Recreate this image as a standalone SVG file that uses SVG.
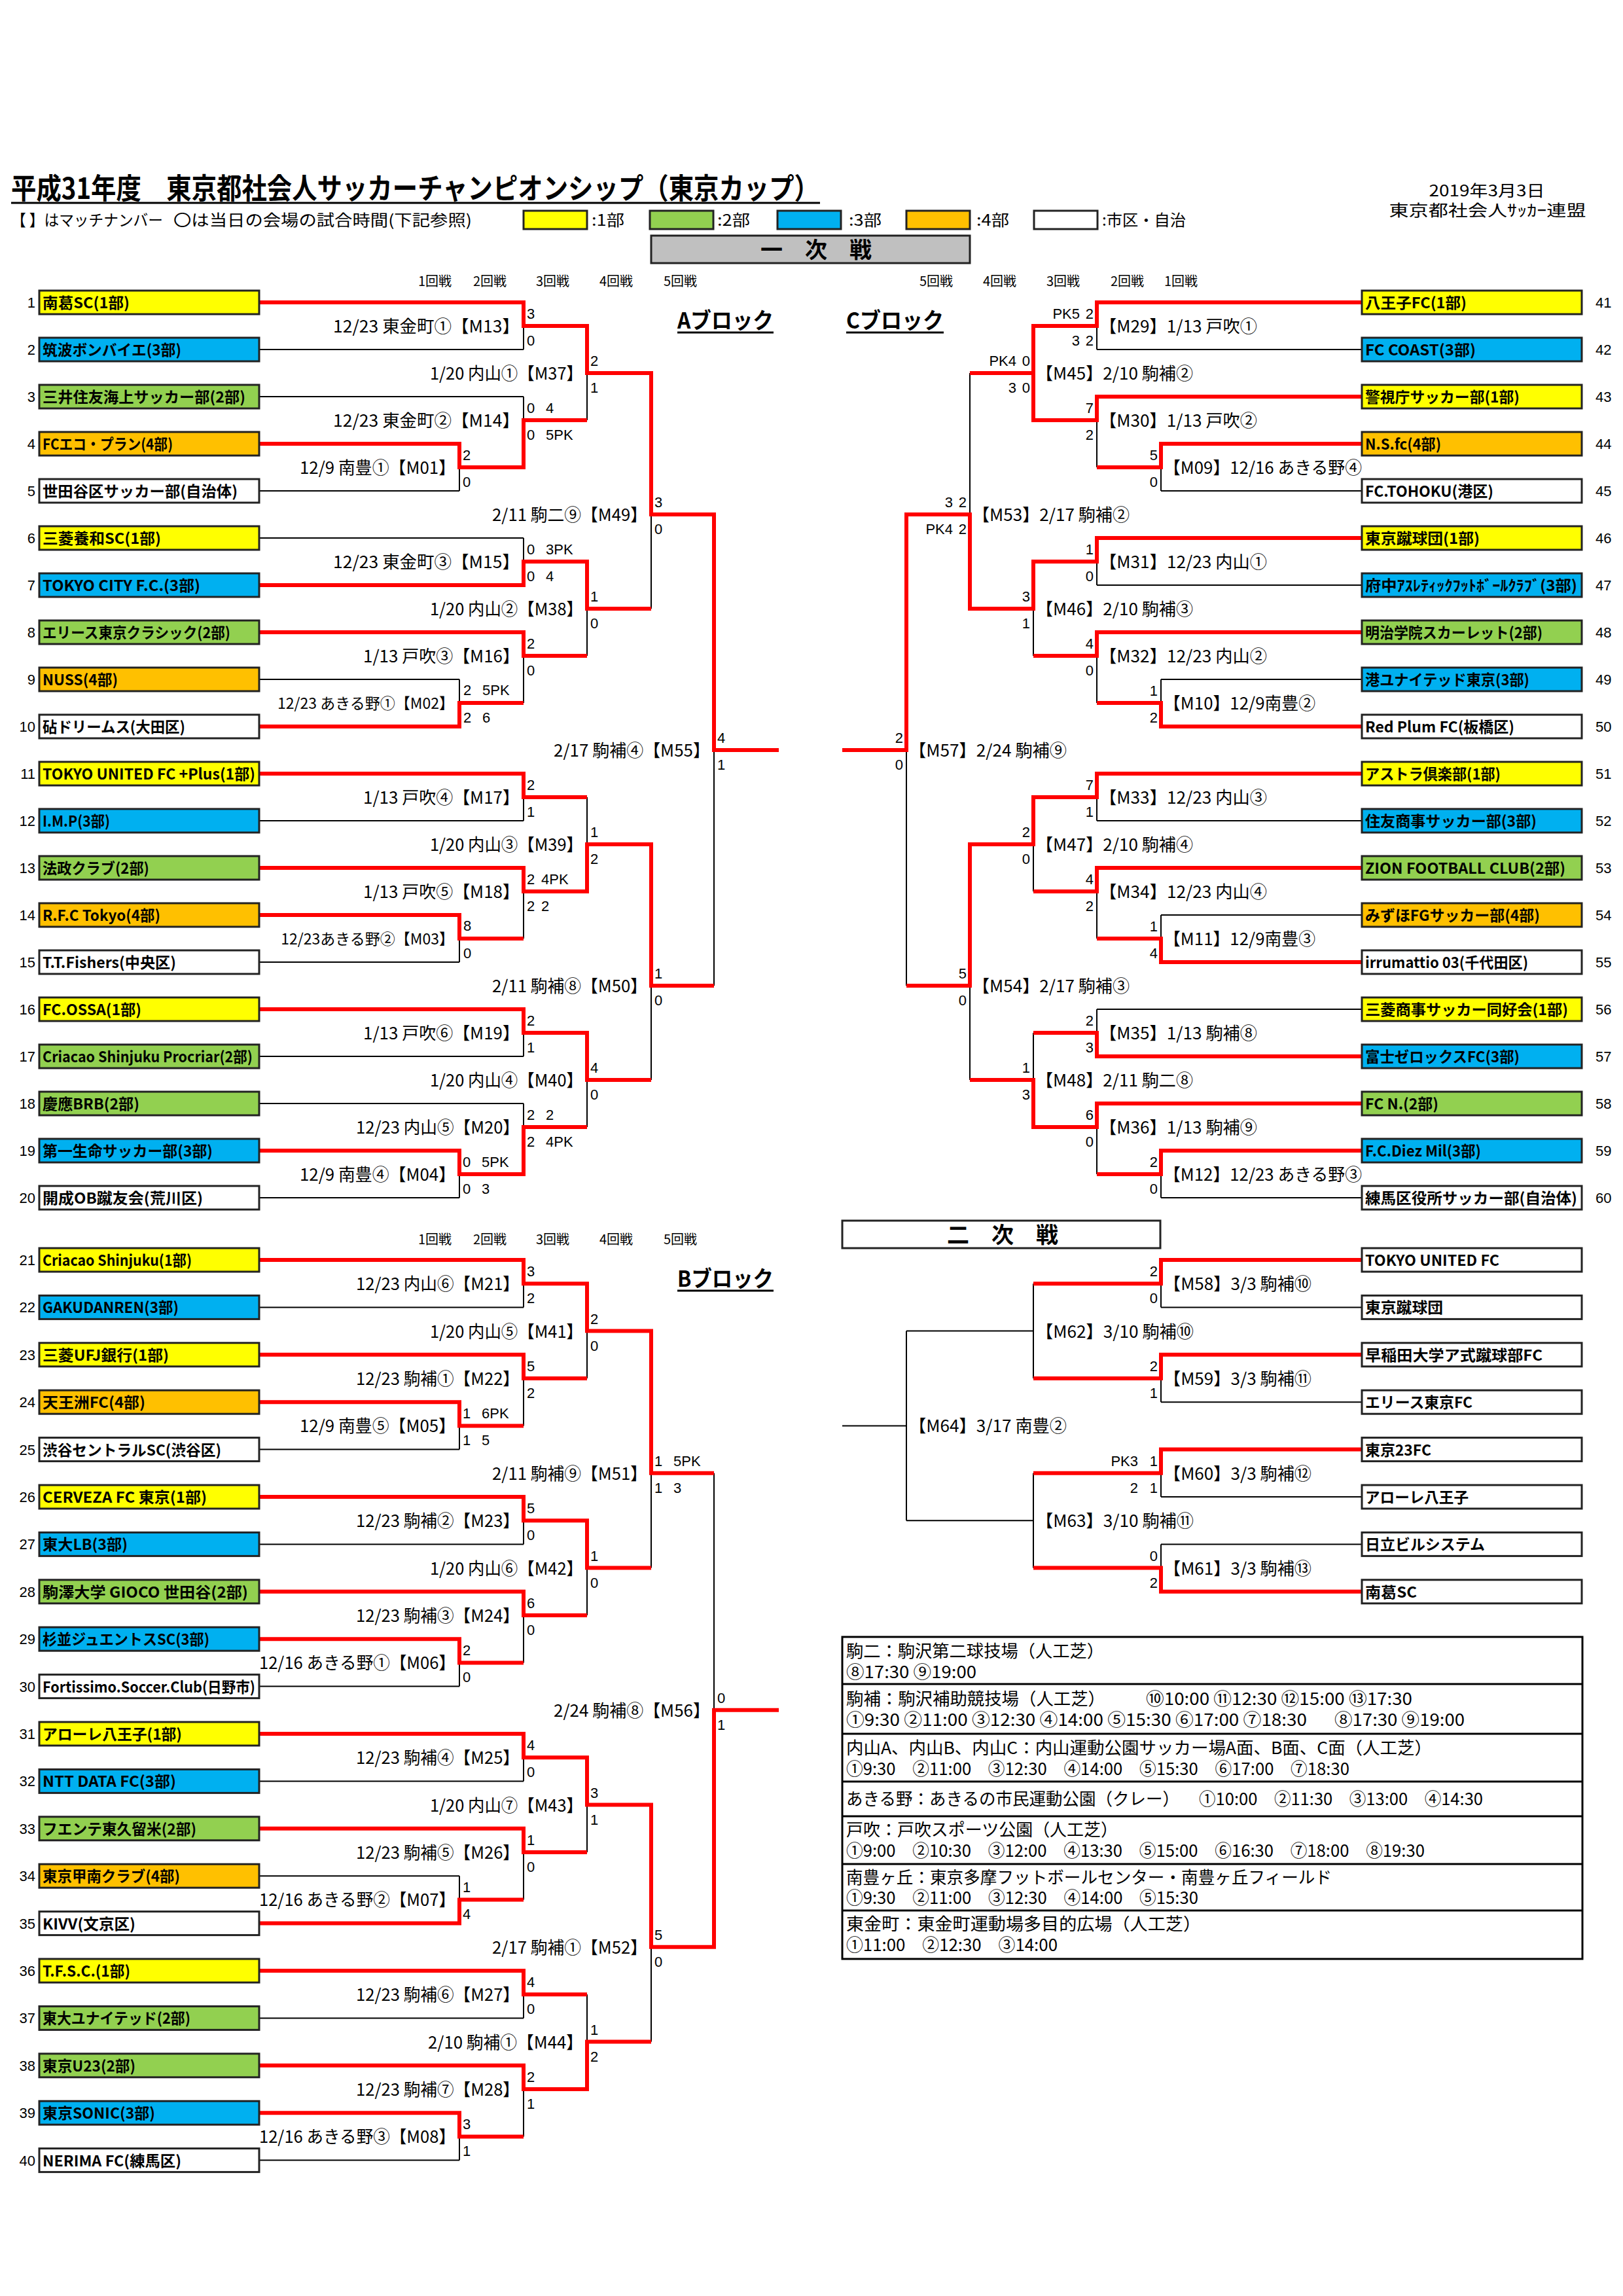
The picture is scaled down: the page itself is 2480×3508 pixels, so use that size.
<svg xmlns="http://www.w3.org/2000/svg" width="2480" height="3508" viewBox="0 0 2480 3508">
<style>
text{font-family:"Noto Sans CJK JP","Liberation Sans",sans-serif;fill:#000}
.tn{font-weight:bold;font-size:23px}
.no{font-family:"Liberation Sans","Noto Sans CJK JP",sans-serif;font-size:22px}
.lb{font-size:26px}
.sc{font-family:"Liberation Sans",sans-serif;font-size:22px}
.e{text-anchor:end}
.hd{font-size:20px}
.bk{font-weight:bold;font-size:34px}
.vt{font-size:26px}
.lg{font-size:24px}
.bx{stroke:#222;stroke-width:3}
.y{fill:#ffff00}.g{fill:#92d050}.b{fill:#00b0f0}.o{fill:#ffc000}.w{fill:#fff}
.k{fill:none;stroke:#000;stroke-width:2}
.r{fill:none;stroke:#ff0000;stroke-width:6;stroke-linejoin:miter}
.ul{stroke:#000;stroke-width:3}
</style>
<rect width="2480" height="3508" fill="#fff"/>

<g id="header">
<text x="17" y="304" font-weight="bold" font-size="44" textLength="1235" lengthAdjust="spacingAndGlyphs">平成31年度　東京都社会人サッカーチャンピオンシップ（東京カップ）</text>
<line class="ul" x1="17" y1="310" x2="1253" y2="310"/>
<text class="lg" x="17" y="345" textLength="232" lengthAdjust="spacingAndGlyphs">【 】はマッチナンバー</text>
<text class="lg" x="265" y="345" textLength="456" lengthAdjust="spacingAndGlyphs">〇は当日の会場の試合時間(下記参照)</text>
<rect class="bx y" x="800" y="322" width="97" height="28"/>
<text class="lg" x="904" y="345" textLength="50" lengthAdjust="spacingAndGlyphs">:1部</text>
<rect class="bx g" x="993" y="322" width="97" height="28"/>
<text class="lg" x="1096" y="345" textLength="50" lengthAdjust="spacingAndGlyphs">:2部</text>
<rect class="bx b" x="1188" y="322" width="97" height="28"/>
<text class="lg" x="1297" y="345" textLength="50" lengthAdjust="spacingAndGlyphs">:3部</text>
<rect class="bx o" x="1385" y="322" width="97" height="28"/>
<text class="lg" x="1492" y="345" textLength="50" lengthAdjust="spacingAndGlyphs">:4部</text>
<rect class="bx w" x="1580" y="322" width="97" height="28"/>
<text class="lg" x="1684" y="345" textLength="128" lengthAdjust="spacingAndGlyphs">:市区・自治</text>
<text class="lg" x="2272" y="300" text-anchor="middle" textLength="177" lengthAdjust="spacingAndGlyphs">2019年3月3日</text>
<text class="lg" x="2273" y="330" text-anchor="middle" textLength="301" lengthAdjust="spacingAndGlyphs">東京都社会人ｻｯｶｰ連盟</text>
<rect x="995" y="360" width="487" height="42" fill="#c0c0c0" stroke="#222" stroke-width="3"/>
<text class="bk" x="1247" y="394" text-anchor="middle">一　次　戦</text>
<rect x="1287" y="1865" width="486" height="42" fill="#fff" stroke="#222" stroke-width="3"/>
<text class="bk" x="1532" y="1899" text-anchor="middle">二　次　戦</text>
</g>

<g id="round-headers">
<text class="hd" x="639" y="437">1回戦</text><text class="hd" x="723" y="437">2回戦</text><text class="hd" x="819" y="437">3回戦</text><text class="hd" x="916" y="437">4回戦</text><text class="hd" x="1014" y="437">5回戦</text>
<text class="hd" x="1405" y="437">5回戦</text><text class="hd" x="1502" y="437">4回戦</text><text class="hd" x="1599" y="437">3回戦</text><text class="hd" x="1697" y="437">2回戦</text><text class="hd" x="1779" y="437">1回戦</text>
<text class="hd" x="639" y="1901">1回戦</text><text class="hd" x="723" y="1901">2回戦</text><text class="hd" x="819" y="1901">3回戦</text><text class="hd" x="916" y="1901">4回戦</text><text class="hd" x="1014" y="1901">5回戦</text>
<text class="bk" x="1035" y="502" textLength="147" lengthAdjust="spacingAndGlyphs">Aブロック</text>
<line class="ul" x1="1035" y1="508" x2="1182" y2="508"/>
<text class="bk" x="1293" y="502" textLength="149" lengthAdjust="spacingAndGlyphs">Cブロック</text>
<line class="ul" x1="1293" y1="508" x2="1442" y2="508"/>
<text class="bk" x="1035" y="1966" textLength="147" lengthAdjust="spacingAndGlyphs">Bブロック</text>
<line class="ul" x1="1035" y1="1972" x2="1182" y2="1972"/>
</g>

<g id="connectors">
<path class="k" d="M396 462H800M396 534H800M800 462V534M396 606H800M396 678H702M396 750H702M702 678V750M702 714H800M800 606V714M800 498H897M800 642H897M897 498V642M897 570H995
M396 822H800M396 894H800M800 822V894M396 966H800M396 1038H702M396 1110H702M702 1038V1110M702 1074H800M800 966V1074M800 858H897M800 1002H897M897 858V1002M897 930H995
M995 570V930M995 786H1091
M396 1182H800M396 1254H800M800 1182V1254M396 1326H800M396 1398H702M396 1470H702M702 1398V1470M702 1434H800M800 1326V1434M800 1218H897M800 1362H897M897 1218V1362M897 1290H995
M396 1542H800M396 1614H800M800 1542V1614M396 1686H800M396 1758H702M396 1830H702M702 1758V1830M702 1794H800M800 1686V1794M800 1578H897M800 1722H897M897 1578V1722M897 1650H995
M995 1290V1650M995 1506H1091M1091 786V1506M1091 1146H1190"/>
<path class="k" d="M2081 462H1676M2081 534H1676M1676 462V534M2081 606H1676M2081 678H1774M2081 750H1774M1774 678V750M1774 714H1676M1676 606V714M1676 498H1579M1676 642H1579M1579 498V642M1579 570H1482
M2081 822H1676M2081 894H1676M1676 822V894M2081 966H1676M2081 1038H1774M2081 1110H1774M1774 1038V1110M1774 1074H1676M1676 966V1074M1676 858H1579M1676 1002H1579M1579 858V1002M1579 930H1482
M1482 570V930M1482 786H1385
M2081 1182H1676M2081 1254H1676M1676 1182V1254M2081 1326H1676M2081 1398H1774M2081 1470H1774M1774 1398V1470M1774 1434H1676M1676 1326V1434M1676 1218H1579M1676 1362H1579M1579 1218V1362M1579 1290H1482
M2081 1542H1676M2081 1614H1676M1676 1542V1614M2081 1686H1676M2081 1758H1774M2081 1830H1774M1774 1758V1830M1774 1794H1676M1676 1686V1794M1676 1578H1579M1676 1722H1579M1579 1578V1722M1579 1650H1482
M1482 1290V1650M1482 1506H1385M1385 786V1506M1385 1146H1287"/>
<path class="k" d="M396 1925H800M396 1997.4H800M800 1925V1997.4M396 2069.8H800M396 2142.2H702M396 2214.6H702M702 2142.2V2214.6M702 2178.4H800M800 2069.8V2178.4M800 1961.2H897M800 2106H897M897 1961.2V2106M897 2033.6H995
M396 2287H800M396 2359.4H800M800 2287V2359.4M396 2431.8H800M396 2504.2H702M396 2576.6H702M702 2504.2V2576.6M702 2540.4H800M800 2431.8V2540.4M800 2323.2H897M800 2468H897M897 2323.2V2468M897 2395.6H995
M995 2033.6V2395.6M995 2250.8H1091
M396 2649H800M396 2721.4H800M800 2649V2721.4M396 2793.8H800M396 2866.2H702M396 2938.6H702M702 2866.2V2938.6M702 2902.4H800M800 2793.8V2902.4M800 2685.2H897M800 2830H897M897 2685.2V2830M897 2757.6H995
M396 3011H800M396 3083.4H800M800 3011V3083.4M396 3155.8H800M396 3228.2H702M396 3300.6H702M702 3228.2V3300.6M702 3264.4H800M800 3155.8V3264.4M800 3047.2H897M800 3192H897M897 3047.2V3192M897 3119.6H995
M995 2757.6V3119.6M995 2974.8H1091M1091 2250.8V2974.8M1091 2612.8H1190"/>
<path class="k" d="M2081 1925H1774M2081 1997.4H1774M1774 1925V1997.4M2081 2069.8H1774M2081 2142.2H1774M1774 2069.8V2142.2M2081 2214.6H1774M2081 2287H1774M1774 2214.6V2287M2081 2359.4H1774M2081 2431.8H1774M1774 2359.4V2431.8
M1774 1961.2H1579M1774 2106H1579M1579 1961.2V2106M1774 2250.8H1579M1774 2395.6H1579M1579 2250.8V2395.6
M1579 2033.6H1385M1579 2323.2H1385M1385 2033.6V2323.2M1385 2178.4H1287"/>
<path class="r" d="M396 462H800V498H897V570H995V786H1091V1146H1190
M396 678H702V714H800V642H897
M396 894H800V858H897V930H995
M396 966H800V1002H897
M396 1110H702V1074H800
M396 1182H800V1218H897
M396 1326H800V1362H897V1290H995V1506H1091
M396 1398H702V1434H800
M396 1542H800V1578H897V1650H995
M396 1758H702V1794H800V1722H897"/>
<path class="r" d="M2081 462H1676V498H1579V570H1482
M2081 606H1676V642H1579V570
M2081 678H1774V714H1676
M2081 822H1676V858H1579V930H1482V786H1385V1146H1287
M2081 966H1676V1002H1579
M2081 1110H1774V1074H1676
M2081 1182H1676V1218H1579V1290H1482V1506H1385
M2081 1326H1676V1362H1579
M2081 1470H1774V1434H1676
M2081 1614H1676V1578H1579
M2081 1686H1676V1722H1579V1650H1482
M2081 1758H1774V1794H1676"/>
<path class="r" d="M396 1925H800V1961.2H897V2033.6H995V2250.8H1091
M396 2069.8H800V2106H897
M396 2142.2H702V2178.4H800
M396 2287H800V2323.2H897V2395.6H995
M396 2431.8H800V2468H897
M396 2504.2H702V2540.4H800
M396 2649H800V2685.2H897V2757.6H995V2974.8H1091V2612.8H1190
M396 2793.8H800V2830H897
M396 2938.6H702V2902.4H800
M396 3011H800V3047.2H897
M396 3155.8H800V3192H897V3119.6H995
M396 3228.2H702V3264.4H800"/>
<path class="r" d="M2081 1925H1774V1961.2H1579
M2081 2069.8H1774V2106H1579
M2081 2214.6H1774V2250.8H1579
M2081 2431.8H1774V2395.6H1579"/>
</g>

<g id="match-labels">
<text class="lb e" x="794" y="508" textLength="285" lengthAdjust="spacingAndGlyphs">12/23 東金町①【M13】</text>
<text class="lb e" x="696" y="724" textLength="238" lengthAdjust="spacingAndGlyphs">12/9 南豊①【M01】</text>
<text class="lb e" x="794" y="652" textLength="285" lengthAdjust="spacingAndGlyphs">12/23 東金町②【M14】</text>
<text class="lb e" x="891" y="580" textLength="234" lengthAdjust="spacingAndGlyphs">1/20 内山①【M37】</text>
<text class="lb e" x="794" y="868" textLength="285" lengthAdjust="spacingAndGlyphs">12/23 東金町③【M15】</text>
<text class="e" x="694" y="1083" font-size="23">12/23 あきる野①【M02】</text>
<text class="lb e" x="794" y="1012" textLength="239" lengthAdjust="spacingAndGlyphs">1/13 戸吹③【M16】</text>
<text class="lb e" x="891" y="940" textLength="234" lengthAdjust="spacingAndGlyphs">1/20 内山②【M38】</text>
<text class="lb e" x="989" y="796" textLength="237" lengthAdjust="spacingAndGlyphs">2/11 駒二⑨【M49】</text>
<text class="lb e" x="794" y="1228" textLength="239" lengthAdjust="spacingAndGlyphs">1/13 戸吹④【M17】</text>
<text class="e" x="694" y="1443" font-size="23">12/23あきる野②【M03】</text>
<text class="lb e" x="794" y="1372" textLength="239" lengthAdjust="spacingAndGlyphs">1/13 戸吹⑤【M18】</text>
<text class="lb e" x="891" y="1300" textLength="234" lengthAdjust="spacingAndGlyphs">1/20 内山③【M39】</text>
<text class="lb e" x="794" y="1588" textLength="239" lengthAdjust="spacingAndGlyphs">1/13 戸吹⑥【M19】</text>
<text class="lb e" x="696" y="1804" textLength="238" lengthAdjust="spacingAndGlyphs">12/9 南豊④【M04】</text>
<text class="lb e" x="794" y="1732" textLength="250" lengthAdjust="spacingAndGlyphs">12/23 内山⑤【M20】</text>
<text class="lb e" x="891" y="1660" textLength="234" lengthAdjust="spacingAndGlyphs">1/20 内山④【M40】</text>
<text class="lb e" x="989" y="1516" textLength="237" lengthAdjust="spacingAndGlyphs">2/11 駒補⑧【M50】</text>
<text class="lb e" x="1085" y="1156" textLength="239" lengthAdjust="spacingAndGlyphs">2/17 駒補④【M55】</text>

<text class="lb e" x="794" y="1971.2" textLength="250" lengthAdjust="spacingAndGlyphs">12/23 内山⑥【M21】</text>
<text class="lb e" x="696" y="2188.4" textLength="238" lengthAdjust="spacingAndGlyphs">12/9 南豊⑤【M05】</text>
<text class="lb e" x="794" y="2116" textLength="250" lengthAdjust="spacingAndGlyphs">12/23 駒補①【M22】</text>
<text class="lb e" x="891" y="2043.6" textLength="234" lengthAdjust="spacingAndGlyphs">1/20 内山⑤【M41】</text>
<text class="lb e" x="794" y="2333.2" textLength="250" lengthAdjust="spacingAndGlyphs">12/23 駒補②【M23】</text>
<text class="lb e" x="696" y="2550.4" textLength="300" lengthAdjust="spacingAndGlyphs">12/16 あきる野①【M06】</text>
<text class="lb e" x="794" y="2478" textLength="250" lengthAdjust="spacingAndGlyphs">12/23 駒補③【M24】</text>
<text class="lb e" x="891" y="2405.6" textLength="234" lengthAdjust="spacingAndGlyphs">1/20 内山⑥【M42】</text>
<text class="lb e" x="989" y="2260.8" textLength="237" lengthAdjust="spacingAndGlyphs">2/11 駒補⑨【M51】</text>
<text class="lb e" x="794" y="2695.2" textLength="250" lengthAdjust="spacingAndGlyphs">12/23 駒補④【M25】</text>
<text class="lb e" x="696" y="2912.4" textLength="300" lengthAdjust="spacingAndGlyphs">12/16 あきる野②【M07】</text>
<text class="lb e" x="794" y="2840" textLength="250" lengthAdjust="spacingAndGlyphs">12/23 駒補⑤【M26】</text>
<text class="lb e" x="891" y="2767.6" textLength="234" lengthAdjust="spacingAndGlyphs">1/20 内山⑦【M43】</text>
<text class="lb e" x="794" y="3057.2" textLength="250" lengthAdjust="spacingAndGlyphs">12/23 駒補⑥【M27】</text>
<text class="lb e" x="696" y="3274.4" textLength="300" lengthAdjust="spacingAndGlyphs">12/16 あきる野③【M08】</text>
<text class="lb e" x="794" y="3202" textLength="250" lengthAdjust="spacingAndGlyphs">12/23 駒補⑦【M28】</text>
<text class="lb e" x="891" y="3129.6" textLength="237" lengthAdjust="spacingAndGlyphs">2/10 駒補①【M44】</text>
<text class="lb e" x="989" y="2984.8" textLength="237" lengthAdjust="spacingAndGlyphs">2/17 駒補①【M52】</text>
<text class="lb e" x="1085" y="2622.8" textLength="239" lengthAdjust="spacingAndGlyphs">2/24 駒補⑧【M56】</text>

<text class="lb" x="1680" y="508" textLength="241" lengthAdjust="spacingAndGlyphs">【M29】1/13 戸吹①</text>
<text class="lb" x="1778" y="724" textLength="303" lengthAdjust="spacingAndGlyphs">【M09】12/16 あきる野④</text>
<text class="lb" x="1680" y="652" textLength="241" lengthAdjust="spacingAndGlyphs">【M30】1/13 戸吹②</text>
<text class="lb" x="1583" y="580" textLength="240" lengthAdjust="spacingAndGlyphs">【M45】2/10 駒補②</text>
<text class="lb" x="1680" y="868" textLength="256" lengthAdjust="spacingAndGlyphs">【M31】12/23 内山①</text>
<text class="lb" x="1778" y="1084" textLength="232" lengthAdjust="spacingAndGlyphs">【M10】12/9南豊②</text>
<text class="lb" x="1680" y="1012" textLength="256" lengthAdjust="spacingAndGlyphs">【M32】12/23 内山②</text>
<text class="lb" x="1583" y="940" textLength="240" lengthAdjust="spacingAndGlyphs">【M46】2/10 駒補③</text>
<text class="lb" x="1486" y="796" textLength="240" lengthAdjust="spacingAndGlyphs">【M53】2/17 駒補②</text>
<text class="lb" x="1680" y="1228" textLength="256" lengthAdjust="spacingAndGlyphs">【M33】12/23 内山③</text>
<text class="lb" x="1778" y="1444" textLength="232" lengthAdjust="spacingAndGlyphs">【M11】12/9南豊③</text>
<text class="lb" x="1680" y="1372" textLength="256" lengthAdjust="spacingAndGlyphs">【M34】12/23 内山④</text>
<text class="lb" x="1583" y="1300" textLength="240" lengthAdjust="spacingAndGlyphs">【M47】2/10 駒補④</text>
<text class="lb" x="1680" y="1588" textLength="241" lengthAdjust="spacingAndGlyphs">【M35】1/13 駒補⑧</text>
<text class="lb" x="1778" y="1804" textLength="303" lengthAdjust="spacingAndGlyphs">【M12】12/23 あきる野③</text>
<text class="lb" x="1680" y="1732" textLength="241" lengthAdjust="spacingAndGlyphs">【M36】1/13 駒補⑨</text>
<text class="lb" x="1583" y="1660" textLength="240" lengthAdjust="spacingAndGlyphs">【M48】2/11 駒二⑧</text>
<text class="lb" x="1486" y="1516" textLength="240" lengthAdjust="spacingAndGlyphs">【M54】2/17 駒補③</text>
<text class="lb" x="1389" y="1156" textLength="241" lengthAdjust="spacingAndGlyphs">【M57】2/24 駒補⑨</text>

<text class="lb" x="1778" y="1971.2" textLength="226" lengthAdjust="spacingAndGlyphs">【M58】3/3 駒補⑩</text>
<text class="lb" x="1778" y="2116" textLength="226" lengthAdjust="spacingAndGlyphs">【M59】3/3 駒補⑪</text>
<text class="lb" x="1778" y="2260.8" textLength="226" lengthAdjust="spacingAndGlyphs">【M60】3/3 駒補⑫</text>
<text class="lb" x="1778" y="2405.6" textLength="226" lengthAdjust="spacingAndGlyphs">【M61】3/3 駒補⑬</text>
<text class="lb" x="1583" y="2043.6" textLength="241" lengthAdjust="spacingAndGlyphs">【M62】3/10 駒補⑩</text>
<text class="lb" x="1583" y="2333.2" textLength="241" lengthAdjust="spacingAndGlyphs">【M63】3/10 駒補⑪</text>
<text class="lb" x="1389" y="2188.4" textLength="241" lengthAdjust="spacingAndGlyphs">【M64】3/17 南豊②</text>
</g>

<g id="scores">
<text class="sc" x="805" y="487">3</text><text class="sc" x="805" y="528">0</text>
<text class="sc" x="707" y="703">2</text><text class="sc" x="707" y="744">0</text>
<text class="sc" x="805" y="631">0</text><text class="sc" x="834" y="631">4</text><text class="sc" x="805" y="672">0</text><text class="sc" x="834" y="672">5PK</text>
<text class="sc" x="902" y="559">2</text><text class="sc" x="902" y="600">1</text>
<text class="sc" x="805" y="847">0</text><text class="sc" x="834" y="847">3PK</text><text class="sc" x="805" y="888">0</text><text class="sc" x="834" y="888">4</text>
<text class="sc" x="708" y="1062">2</text><text class="sc" x="737" y="1062">5PK</text><text class="sc" x="708" y="1104">2</text><text class="sc" x="737" y="1104">6</text>
<text class="sc" x="805" y="991">2</text><text class="sc" x="805" y="1032">0</text>
<text class="sc" x="902" y="919">1</text><text class="sc" x="902" y="960">0</text>
<text class="sc" x="1000" y="775">3</text><text class="sc" x="1000" y="816">0</text>
<text class="sc" x="805" y="1207">2</text><text class="sc" x="805" y="1248">1</text>
<text class="sc" x="708" y="1422">8</text><text class="sc" x="708" y="1464">0</text>
<text class="sc" x="805" y="1351">2</text><text class="sc" x="827" y="1351">4PK</text><text class="sc" x="805" y="1392">2</text><text class="sc" x="827" y="1392">2</text>
<text class="sc" x="902" y="1279">1</text><text class="sc" x="902" y="1320">2</text>
<text class="sc" x="805" y="1567">2</text><text class="sc" x="805" y="1608">1</text>
<text class="sc" x="707" y="1783">0</text><text class="sc" x="736" y="1783">5PK</text><text class="sc" x="707" y="1824">0</text><text class="sc" x="736" y="1824">3</text>
<text class="sc" x="805" y="1711">2</text><text class="sc" x="834" y="1711">2</text><text class="sc" x="805" y="1752">2</text><text class="sc" x="834" y="1752">4PK</text>
<text class="sc" x="902" y="1639">4</text><text class="sc" x="902" y="1680">0</text>
<text class="sc" x="1000" y="1495">1</text><text class="sc" x="1000" y="1536">0</text>
<text class="sc" x="1096" y="1135">4</text><text class="sc" x="1096" y="1176">1</text>

<text class="sc" x="805" y="1950.2">3</text><text class="sc" x="805" y="1991.2">2</text>
<text class="sc" x="707" y="2167.4">1</text><text class="sc" x="736" y="2167.4">6PK</text><text class="sc" x="707" y="2208.4">1</text><text class="sc" x="736" y="2208.4">5</text>
<text class="sc" x="805" y="2095">5</text><text class="sc" x="805" y="2136">2</text>
<text class="sc" x="902" y="2022.6">2</text><text class="sc" x="902" y="2063.6">0</text>
<text class="sc" x="805" y="2312.2">5</text><text class="sc" x="805" y="2353.2">0</text>
<text class="sc" x="707" y="2529.4">2</text><text class="sc" x="707" y="2570.4">0</text>
<text class="sc" x="805" y="2457">6</text><text class="sc" x="805" y="2498">0</text>
<text class="sc" x="902" y="2384.6">1</text><text class="sc" x="902" y="2425.6">0</text>
<text class="sc" x="1000" y="2239.8">1</text><text class="sc" x="1029" y="2239.8">5PK</text><text class="sc" x="1000" y="2280.8">1</text><text class="sc" x="1029" y="2280.8">3</text>
<text class="sc" x="805" y="2674.2">4</text><text class="sc" x="805" y="2715.2">0</text>
<text class="sc" x="707" y="2891.4">1</text><text class="sc" x="707" y="2932.4">4</text>
<text class="sc" x="805" y="2819">1</text><text class="sc" x="805" y="2860">0</text>
<text class="sc" x="902" y="2746.6">3</text><text class="sc" x="902" y="2787.6">1</text>
<text class="sc" x="805" y="3036.2">4</text><text class="sc" x="805" y="3077.2">0</text>
<text class="sc" x="707" y="3253.4">3</text><text class="sc" x="707" y="3294.4">1</text>
<text class="sc" x="805" y="3181">2</text><text class="sc" x="805" y="3222">1</text>
<text class="sc" x="902" y="3108.6">1</text><text class="sc" x="902" y="3149.6">2</text>
<text class="sc" x="1000" y="2963.8">5</text><text class="sc" x="1000" y="3004.8">0</text>
<text class="sc" x="1096" y="2601.8">0</text><text class="sc" x="1096" y="2642.8">1</text>

<text class="sc e" x="1650" y="487">PK5</text><text class="sc e" x="1671" y="487">2</text><text class="sc e" x="1650" y="528">3</text><text class="sc e" x="1671" y="528">2</text>
<text class="sc e" x="1769" y="703">5</text><text class="sc e" x="1769" y="744">0</text>
<text class="sc e" x="1671" y="631">7</text><text class="sc e" x="1671" y="672">2</text>
<text class="sc e" x="1553" y="559">PK4</text><text class="sc e" x="1574" y="559">0</text><text class="sc e" x="1553" y="600">3</text><text class="sc e" x="1574" y="600">0</text>
<text class="sc e" x="1671" y="847">1</text><text class="sc e" x="1671" y="888">0</text>
<text class="sc e" x="1769" y="1063">1</text><text class="sc e" x="1769" y="1104">2</text>
<text class="sc e" x="1671" y="991">4</text><text class="sc e" x="1671" y="1032">0</text>
<text class="sc e" x="1574" y="919">3</text><text class="sc e" x="1574" y="960">1</text>
<text class="sc e" x="1456" y="775">3</text><text class="sc e" x="1477" y="775">2</text><text class="sc e" x="1456" y="816">PK4</text><text class="sc e" x="1477" y="816">2</text>
<text class="sc e" x="1671" y="1207">7</text><text class="sc e" x="1671" y="1248">1</text>
<text class="sc e" x="1769" y="1423">1</text><text class="sc e" x="1769" y="1464">4</text>
<text class="sc e" x="1671" y="1351">4</text><text class="sc e" x="1671" y="1392">2</text>
<text class="sc e" x="1574" y="1279">2</text><text class="sc e" x="1574" y="1320">0</text>
<text class="sc e" x="1671" y="1567">2</text><text class="sc e" x="1671" y="1608">3</text>
<text class="sc e" x="1769" y="1783">2</text><text class="sc e" x="1769" y="1824">0</text>
<text class="sc e" x="1671" y="1711">6</text><text class="sc e" x="1671" y="1752">0</text>
<text class="sc e" x="1574" y="1639">1</text><text class="sc e" x="1574" y="1680">3</text>
<text class="sc e" x="1477" y="1495">5</text><text class="sc e" x="1477" y="1536">0</text>
<text class="sc e" x="1380" y="1135">2</text><text class="sc e" x="1380" y="1176">0</text>

<text class="sc e" x="1769" y="1950.2">2</text><text class="sc e" x="1769" y="1991.2">0</text>
<text class="sc e" x="1769" y="2095">2</text><text class="sc e" x="1769" y="2136">1</text>
<text class="sc e" x="1739" y="2239.8">PK3</text><text class="sc e" x="1769" y="2239.8">1</text><text class="sc e" x="1739" y="2280.8">2</text><text class="sc e" x="1769" y="2280.8">1</text>
<text class="sc e" x="1769" y="2384.6">0</text><text class="sc e" x="1769" y="2425.6">2</text>
</g>

<g id="team1"><rect class="bx y" x="60" y="444" width="336" height="36"/><text class="tn" x="65" y="471" textLength="133" lengthAdjust="spacingAndGlyphs">南葛SC(1部)</text><text class="no e" x="54" y="470">1</text></g>
<g id="team2"><rect class="bx b" x="60" y="516" width="336" height="36"/><text class="tn" x="65" y="543" textLength="212" lengthAdjust="spacingAndGlyphs">筑波ボンバイエ(3部)</text><text class="no e" x="54" y="542">2</text></g>
<g id="team3"><rect class="bx g" x="60" y="588" width="336" height="36"/><text class="tn" x="65" y="615" textLength="310" lengthAdjust="spacingAndGlyphs">三井住友海上サッカー部(2部)</text><text class="no e" x="54" y="614">3</text></g>
<g id="team4"><rect class="bx o" x="60" y="660" width="336" height="36"/><text class="tn" x="65" y="687" textLength="199" lengthAdjust="spacingAndGlyphs">FCエコ・プラン(4部)</text><text class="no e" x="54" y="686">4</text></g>
<g id="team5"><rect class="bx w" x="60" y="732" width="336" height="36"/><text class="tn" x="65" y="759" textLength="298" lengthAdjust="spacingAndGlyphs">世田谷区サッカー部(自治体)</text><text class="no e" x="54" y="758">5</text></g>
<g id="team6"><rect class="bx y" x="60" y="804" width="336" height="36"/><text class="tn" x="65" y="831" textLength="181" lengthAdjust="spacingAndGlyphs">三菱養和SC(1部)</text><text class="no e" x="54" y="830">6</text></g>
<g id="team7"><rect class="bx b" x="60" y="876" width="336" height="36"/><text class="tn" x="65" y="903" textLength="241" lengthAdjust="spacingAndGlyphs">TOKYO CITY F.C.(3部)</text><text class="no e" x="54" y="902">7</text></g>
<g id="team8"><rect class="bx g" x="60" y="948" width="336" height="36"/><text class="tn" x="65" y="975" textLength="287" lengthAdjust="spacingAndGlyphs">エリース東京クラシック(2部)</text><text class="no e" x="54" y="974">8</text></g>
<g id="team9"><rect class="bx o" x="60" y="1020" width="336" height="36"/><text class="tn" x="65" y="1047" textLength="115" lengthAdjust="spacingAndGlyphs">NUSS(4部)</text><text class="no e" x="54" y="1046">9</text></g>
<g id="team10"><rect class="bx w" x="60" y="1092" width="336" height="36"/><text class="tn" x="65" y="1119" textLength="218" lengthAdjust="spacingAndGlyphs">砧ドリームス(大田区)</text><text class="no e" x="54" y="1118">10</text></g>
<g id="team11"><rect class="bx y" x="60" y="1164" width="336" height="36"/><text class="tn" x="65" y="1191" textLength="325" lengthAdjust="spacingAndGlyphs">TOKYO UNITED FC +Plus(1部)</text><text class="no e" x="54" y="1190">11</text></g>
<g id="team12"><rect class="bx b" x="60" y="1236" width="336" height="36"/><text class="tn" x="65" y="1263" textLength="103" lengthAdjust="spacingAndGlyphs">I.M.P(3部)</text><text class="no e" x="54" y="1262">12</text></g>
<g id="team13"><rect class="bx g" x="60" y="1308" width="336" height="36"/><text class="tn" x="65" y="1335" textLength="163" lengthAdjust="spacingAndGlyphs">法政クラブ(2部)</text><text class="no e" x="54" y="1334">13</text></g>
<g id="team14"><rect class="bx o" x="60" y="1380" width="336" height="36"/><text class="tn" x="65" y="1407" textLength="180" lengthAdjust="spacingAndGlyphs">R.F.C Tokyo(4部)</text><text class="no e" x="54" y="1406">14</text></g>
<g id="team15"><rect class="bx w" x="60" y="1452" width="336" height="36"/><text class="tn" x="65" y="1479" textLength="204" lengthAdjust="spacingAndGlyphs">T.T.Fishers(中央区)</text><text class="no e" x="54" y="1478">15</text></g>
<g id="team16"><rect class="bx y" x="60" y="1524" width="336" height="36"/><text class="tn" x="65" y="1551" textLength="151" lengthAdjust="spacingAndGlyphs">FC.OSSA(1部)</text><text class="no e" x="54" y="1550">16</text></g>
<g id="team17"><rect class="bx g" x="60" y="1596" width="336" height="36"/><text class="tn" x="65" y="1623" textLength="321" lengthAdjust="spacingAndGlyphs">Criacao Shinjuku Procriar(2部)</text><text class="no e" x="54" y="1622">17</text></g>
<g id="team18"><rect class="bx g" x="60" y="1668" width="336" height="36"/><text class="tn" x="65" y="1695" textLength="148" lengthAdjust="spacingAndGlyphs">慶應BRB(2部)</text><text class="no e" x="54" y="1694">18</text></g>
<g id="team19"><rect class="bx b" x="60" y="1740" width="336" height="36"/><text class="tn" x="65" y="1767" textLength="260" lengthAdjust="spacingAndGlyphs">第一生命サッカー部(3部)</text><text class="no e" x="54" y="1766">19</text></g>
<g id="team20"><rect class="bx w" x="60" y="1812" width="336" height="36"/><text class="tn" x="65" y="1839" textLength="245" lengthAdjust="spacingAndGlyphs">開成OB蹴友会(荒川区)</text><text class="no e" x="54" y="1838">20</text></g>

<g id="team21"><rect class="bx y" x="60" y="1907" width="336" height="36"/><text class="tn" x="65" y="1934" textLength="228" lengthAdjust="spacingAndGlyphs">Criacao Shinjuku(1部)</text><text class="no e" x="54" y="1933">21</text></g>
<g id="team22"><rect class="bx b" x="60" y="1979.4" width="336" height="36"/><text class="tn" x="65" y="2006.4" textLength="208" lengthAdjust="spacingAndGlyphs">GAKUDANREN(3部)</text><text class="no e" x="54" y="2005.4">22</text></g>
<g id="team23"><rect class="bx y" x="60" y="2051.8" width="336" height="36"/><text class="tn" x="65" y="2078.8" textLength="193" lengthAdjust="spacingAndGlyphs">三菱UFJ銀行(1部)</text><text class="no e" x="54" y="2077.8">23</text></g>
<g id="team24"><rect class="bx o" x="60" y="2124.2" width="336" height="36"/><text class="tn" x="65" y="2151.2" textLength="157" lengthAdjust="spacingAndGlyphs">天王洲FC(4部)</text><text class="no e" x="54" y="2150.2">24</text></g>
<g id="team25"><rect class="bx w" x="60" y="2196.6" width="336" height="36"/><text class="tn" x="65" y="2223.6" textLength="273" lengthAdjust="spacingAndGlyphs">渋谷セントラルSC(渋谷区)</text><text class="no e" x="54" y="2222.6">25</text></g>
<g id="team26"><rect class="bx y" x="60" y="2269" width="336" height="36"/><text class="tn" x="65" y="2296" textLength="251" lengthAdjust="spacingAndGlyphs">CERVEZA FC 東京(1部)</text><text class="no e" x="54" y="2295">26</text></g>
<g id="team27"><rect class="bx b" x="60" y="2341.4" width="336" height="36"/><text class="tn" x="65" y="2368.4" textLength="130" lengthAdjust="spacingAndGlyphs">東大LB(3部)</text><text class="no e" x="54" y="2367.4">27</text></g>
<g id="team28"><rect class="bx g" x="60" y="2413.8" width="336" height="36"/><text class="tn" x="65" y="2440.8" textLength="314" lengthAdjust="spacingAndGlyphs">駒澤大学 GIOCO 世田谷(2部)</text><text class="no e" x="54" y="2439.8">28</text></g>
<g id="team29"><rect class="bx b" x="60" y="2486.2" width="336" height="36"/><text class="tn" x="65" y="2513.2" textLength="255" lengthAdjust="spacingAndGlyphs">杉並ジュエントスSC(3部)</text><text class="no e" x="54" y="2512.2">29</text></g>
<g id="team30"><rect class="bx w" x="60" y="2558.6" width="336" height="36"/><text class="tn" x="65" y="2585.6" textLength="325" lengthAdjust="spacingAndGlyphs">Fortissimo.Soccer.Club(日野市)</text><text class="no e" x="54" y="2584.6">30</text></g>
<g id="team31"><rect class="bx y" x="60" y="2631" width="336" height="36"/><text class="tn" x="65" y="2658" textLength="213" lengthAdjust="spacingAndGlyphs">アローレ八王子(1部)</text><text class="no e" x="54" y="2657">31</text></g>
<g id="team32"><rect class="bx b" x="60" y="2703.4" width="336" height="36"/><text class="tn" x="65" y="2730.4" textLength="204" lengthAdjust="spacingAndGlyphs">NTT DATA FC(3部)</text><text class="no e" x="54" y="2729.4">32</text></g>
<g id="team33"><rect class="bx g" x="60" y="2775.8" width="336" height="36"/><text class="tn" x="65" y="2802.8" textLength="235" lengthAdjust="spacingAndGlyphs">フエンテ東久留米(2部)</text><text class="no e" x="54" y="2801.8">33</text></g>
<g id="team34"><rect class="bx o" x="60" y="2848.2" width="336" height="36"/><text class="tn" x="65" y="2875.2" textLength="210" lengthAdjust="spacingAndGlyphs">東京甲南クラブ(4部)</text><text class="no e" x="54" y="2874.2">34</text></g>
<g id="team35"><rect class="bx w" x="60" y="2920.6" width="336" height="36"/><text class="tn" x="65" y="2947.6" textLength="142" lengthAdjust="spacingAndGlyphs">KIVV(文京区)</text><text class="no e" x="54" y="2946.6">35</text></g>
<g id="team36"><rect class="bx y" x="60" y="2993" width="336" height="36"/><text class="tn" x="65" y="3020" textLength="134" lengthAdjust="spacingAndGlyphs">T.F.S.C.(1部)</text><text class="no e" x="54" y="3019">36</text></g>
<g id="team37"><rect class="bx g" x="60" y="3065.4" width="336" height="36"/><text class="tn" x="65" y="3092.4" textLength="226" lengthAdjust="spacingAndGlyphs">東大ユナイテッド(2部)</text><text class="no e" x="54" y="3091.4">37</text></g>
<g id="team38"><rect class="bx g" x="60" y="3137.8" width="336" height="36"/><text class="tn" x="65" y="3164.8" textLength="142" lengthAdjust="spacingAndGlyphs">東京U23(2部)</text><text class="no e" x="54" y="3163.8">38</text></g>
<g id="team39"><rect class="bx b" x="60" y="3210.2" width="336" height="36"/><text class="tn" x="65" y="3237.2" textLength="172" lengthAdjust="spacingAndGlyphs">東京SONIC(3部)</text><text class="no e" x="54" y="3236.2">39</text></g>
<g id="team40"><rect class="bx w" x="60" y="3282.6" width="336" height="36"/><text class="tn" x="65" y="3309.6" textLength="212" lengthAdjust="spacingAndGlyphs">NERIMA FC(練馬区)</text><text class="no e" x="54" y="3308.6">40</text></g>

<g id="team41"><rect class="bx y" x="2081" y="444" width="336" height="36"/><text class="tn" x="2086" y="471" textLength="155" lengthAdjust="spacingAndGlyphs">八王子FC(1部)</text><text class="no" x="2438" y="470">41</text></g>
<g id="team42"><rect class="bx b" x="2081" y="516" width="336" height="36"/><text class="tn" x="2086" y="543" textLength="169" lengthAdjust="spacingAndGlyphs">FC COAST(3部)</text><text class="no" x="2438" y="542">42</text></g>
<g id="team43"><rect class="bx y" x="2081" y="588" width="336" height="36"/><text class="tn" x="2086" y="615" textLength="236" lengthAdjust="spacingAndGlyphs">警視庁サッカー部(1部)</text><text class="no" x="2438" y="614">43</text></g>
<g id="team44"><rect class="bx o" x="2081" y="660" width="336" height="36"/><text class="tn" x="2086" y="687" textLength="116" lengthAdjust="spacingAndGlyphs">N.S.fc(4部)</text><text class="no" x="2438" y="686">44</text></g>
<g id="team45"><rect class="bx w" x="2081" y="732" width="336" height="36"/><text class="tn" x="2086" y="759" textLength="196" lengthAdjust="spacingAndGlyphs">FC.TOHOKU(港区)</text><text class="no" x="2438" y="758">45</text></g>
<g id="team46"><rect class="bx y" x="2081" y="804" width="336" height="36"/><text class="tn" x="2086" y="831" textLength="175" lengthAdjust="spacingAndGlyphs">東京蹴球団(1部)</text><text class="no" x="2438" y="830">46</text></g>
<g id="team47"><rect class="bx b" x="2081" y="876" width="336" height="36"/><text class="tn" x="2086" y="903" textLength="324" lengthAdjust="spacingAndGlyphs">府中ｱｽﾚﾃｨｯｸﾌｯﾄﾎﾞｰﾙｸﾗﾌﾞ(3部)</text><text class="no" x="2438" y="902">47</text></g>
<g id="team48"><rect class="bx g" x="2081" y="948" width="336" height="36"/><text class="tn" x="2086" y="975" textLength="271" lengthAdjust="spacingAndGlyphs">明治学院スカーレット(2部)</text><text class="no" x="2438" y="974">48</text></g>
<g id="team49"><rect class="bx b" x="2081" y="1020" width="336" height="36"/><text class="tn" x="2086" y="1047" textLength="251" lengthAdjust="spacingAndGlyphs">港ユナイテッド東京(3部)</text><text class="no" x="2438" y="1046">49</text></g>
<g id="team50"><rect class="bx w" x="2081" y="1092" width="336" height="36"/><text class="tn" x="2086" y="1119" textLength="228" lengthAdjust="spacingAndGlyphs">Red Plum FC(板橋区)</text><text class="no" x="2438" y="1118">50</text></g>
<g id="team51"><rect class="bx y" x="2081" y="1164" width="336" height="36"/><text class="tn" x="2086" y="1191" textLength="207" lengthAdjust="spacingAndGlyphs">アストラ倶楽部(1部)</text><text class="no" x="2438" y="1190">51</text></g>
<g id="team52"><rect class="bx b" x="2081" y="1236" width="336" height="36"/><text class="tn" x="2086" y="1263" textLength="262" lengthAdjust="spacingAndGlyphs">住友商事サッカー部(3部)</text><text class="no" x="2438" y="1262">52</text></g>
<g id="team53"><rect class="bx g" x="2081" y="1308" width="336" height="36"/><text class="tn" x="2086" y="1335" textLength="306" lengthAdjust="spacingAndGlyphs">ZION FOOTBALL CLUB(2部)</text><text class="no" x="2438" y="1334">53</text></g>
<g id="team54"><rect class="bx o" x="2081" y="1380" width="336" height="36"/><text class="tn" x="2086" y="1407" textLength="267" lengthAdjust="spacingAndGlyphs">みずほFGサッカー部(4部)</text><text class="no" x="2438" y="1406">54</text></g>
<g id="team55"><rect class="bx w" x="2081" y="1452" width="336" height="36"/><text class="tn" x="2086" y="1479" textLength="249" lengthAdjust="spacingAndGlyphs">irrumattio 03(千代田区)</text><text class="no" x="2438" y="1478">55</text></g>
<g id="team56"><rect class="bx y" x="2081" y="1524" width="336" height="36"/><text class="tn" x="2086" y="1551" textLength="310" lengthAdjust="spacingAndGlyphs">三菱商事サッカー同好会(1部)</text><text class="no" x="2438" y="1550">56</text></g>
<g id="team57"><rect class="bx b" x="2081" y="1596" width="336" height="36"/><text class="tn" x="2086" y="1623" textLength="236" lengthAdjust="spacingAndGlyphs">富士ゼロックスFC(3部)</text><text class="no" x="2438" y="1622">57</text></g>
<g id="team58"><rect class="bx g" x="2081" y="1668" width="336" height="36"/><text class="tn" x="2086" y="1695" textLength="112" lengthAdjust="spacingAndGlyphs">FC N.(2部)</text><text class="no" x="2438" y="1694">58</text></g>
<g id="team59"><rect class="bx b" x="2081" y="1740" width="336" height="36"/><text class="tn" x="2086" y="1767" textLength="177" lengthAdjust="spacingAndGlyphs">F.C.Diez Mil(3部)</text><text class="no" x="2438" y="1766">59</text></g>
<g id="team60"><rect class="bx w" x="2081" y="1812" width="336" height="36"/><text class="tn" x="2086" y="1839" textLength="324" lengthAdjust="spacingAndGlyphs">練馬区役所サッカー部(自治体)</text><text class="no" x="2438" y="1838">60</text></g>

<g id="final1"><rect class="bx w" x="2081" y="1907" width="336" height="36"/><text class="tn" x="2086" y="1934" textLength="205" lengthAdjust="spacingAndGlyphs">TOKYO UNITED FC</text></g>
<g id="final2"><rect class="bx w" x="2081" y="1979.4" width="336" height="36"/><text class="tn" x="2086" y="2006.4" textLength="119" lengthAdjust="spacingAndGlyphs">東京蹴球団</text></g>
<g id="final3"><rect class="bx w" x="2081" y="2051.8" width="336" height="36"/><text class="tn" x="2086" y="2078.8" textLength="271" lengthAdjust="spacingAndGlyphs">早稲田大学ア式蹴球部FC</text></g>
<g id="final4"><rect class="bx w" x="2081" y="2124.2" width="336" height="36"/><text class="tn" x="2086" y="2151.2" textLength="164" lengthAdjust="spacingAndGlyphs">エリース東京FC</text></g>
<g id="final5"><rect class="bx w" x="2081" y="2196.6" width="336" height="36"/><text class="tn" x="2086" y="2223.6" textLength="101" lengthAdjust="spacingAndGlyphs">東京23FC</text></g>
<g id="final6"><rect class="bx w" x="2081" y="2269" width="336" height="36"/><text class="tn" x="2086" y="2296" textLength="158" lengthAdjust="spacingAndGlyphs">アローレ八王子</text></g>
<g id="final7"><rect class="bx w" x="2081" y="2341.4" width="336" height="36"/><text class="tn" x="2086" y="2368.4" textLength="183" lengthAdjust="spacingAndGlyphs">日立ビルシステム</text></g>
<g id="final8"><rect class="bx w" x="2081" y="2413.8" width="336" height="36"/><text class="tn" x="2086" y="2440.8" textLength="79" lengthAdjust="spacingAndGlyphs">南葛SC</text></g>

<g id="venues">
<rect x="1287" y="2501" width="1131" height="492" fill="#fff" stroke="#000" stroke-width="3"/>
<path d="M1287 2573H2418M1287 2649H2418M1287 2722H2418M1287 2775H2418M1287 2848H2418M1287 2919H2418" stroke="#000" stroke-width="3" fill="none"/>
<text class="vt" x="1293" y="2532" textLength="394" lengthAdjust="spacingAndGlyphs">駒二：駒沢第二球技場（人工芝）</text>
<text class="vt" x="1293" y="2564" textLength="199" lengthAdjust="spacingAndGlyphs">⑧17:30 ⑨19:00</text>
<text class="vt" x="1293" y="2605" textLength="396" lengthAdjust="spacingAndGlyphs">駒補：駒沢補助競技場（人工芝）</text>
<text class="vt" x="1751" y="2605" textLength="407" lengthAdjust="spacingAndGlyphs">⑩10:00 ⑪12:30 ⑫15:00 ⑬17:30</text>
<text class="vt" x="1293" y="2637" textLength="704" lengthAdjust="spacingAndGlyphs">①9:30 ②11:00 ③12:30 ④14:00 ⑤15:30 ⑥17:00 ⑦18:30</text>
<text class="vt" x="2039" y="2637" textLength="199" lengthAdjust="spacingAndGlyphs">⑧17:30 ⑨19:00</text>
<text class="vt" x="1293" y="2680" textLength="895" lengthAdjust="spacingAndGlyphs">内山A、内山B、内山C：内山運動公園サッカー場A面、B面、C面（人工芝）</text>
<text class="vt" x="1293" y="2712" textLength="769" lengthAdjust="spacingAndGlyphs">①9:30　②11:00　③12:30　④14:00　⑤15:30　⑥17:00　⑦18:30</text>
<text class="vt" x="1293" y="2758" textLength="509" lengthAdjust="spacingAndGlyphs">あきる野：あきるの市民運動公園（クレー）</text>
<text class="vt" x="1832" y="2758" textLength="434" lengthAdjust="spacingAndGlyphs">①10:00　②11:30　③13:00　④14:30</text>
<text class="vt" x="1293" y="2805" textLength="415" lengthAdjust="spacingAndGlyphs">戸吹：戸吹スポーツ公園（人工芝）</text>
<text class="vt" x="1293" y="2837" textLength="884" lengthAdjust="spacingAndGlyphs">①9:00　②10:30　③12:00　④13:30　⑤15:00　⑥16:30　⑦18:00　⑧19:30</text>
<text class="vt" x="1293" y="2878" textLength="742" lengthAdjust="spacingAndGlyphs">南豊ヶ丘：東京多摩フットボールセンター・南豊ヶ丘フィールド</text>
<text class="vt" x="1293" y="2909" textLength="538" lengthAdjust="spacingAndGlyphs">①9:30　②11:00　③12:30　④14:00　⑤15:30</text>
<text class="vt" x="1293" y="2949" textLength="542" lengthAdjust="spacingAndGlyphs">東金町：東金町運動場多目的広場（人工芝）</text>
<text class="vt" x="1293" y="2981" textLength="323" lengthAdjust="spacingAndGlyphs">①11:00　②12:30　③14:00</text>
</g>
</svg>
